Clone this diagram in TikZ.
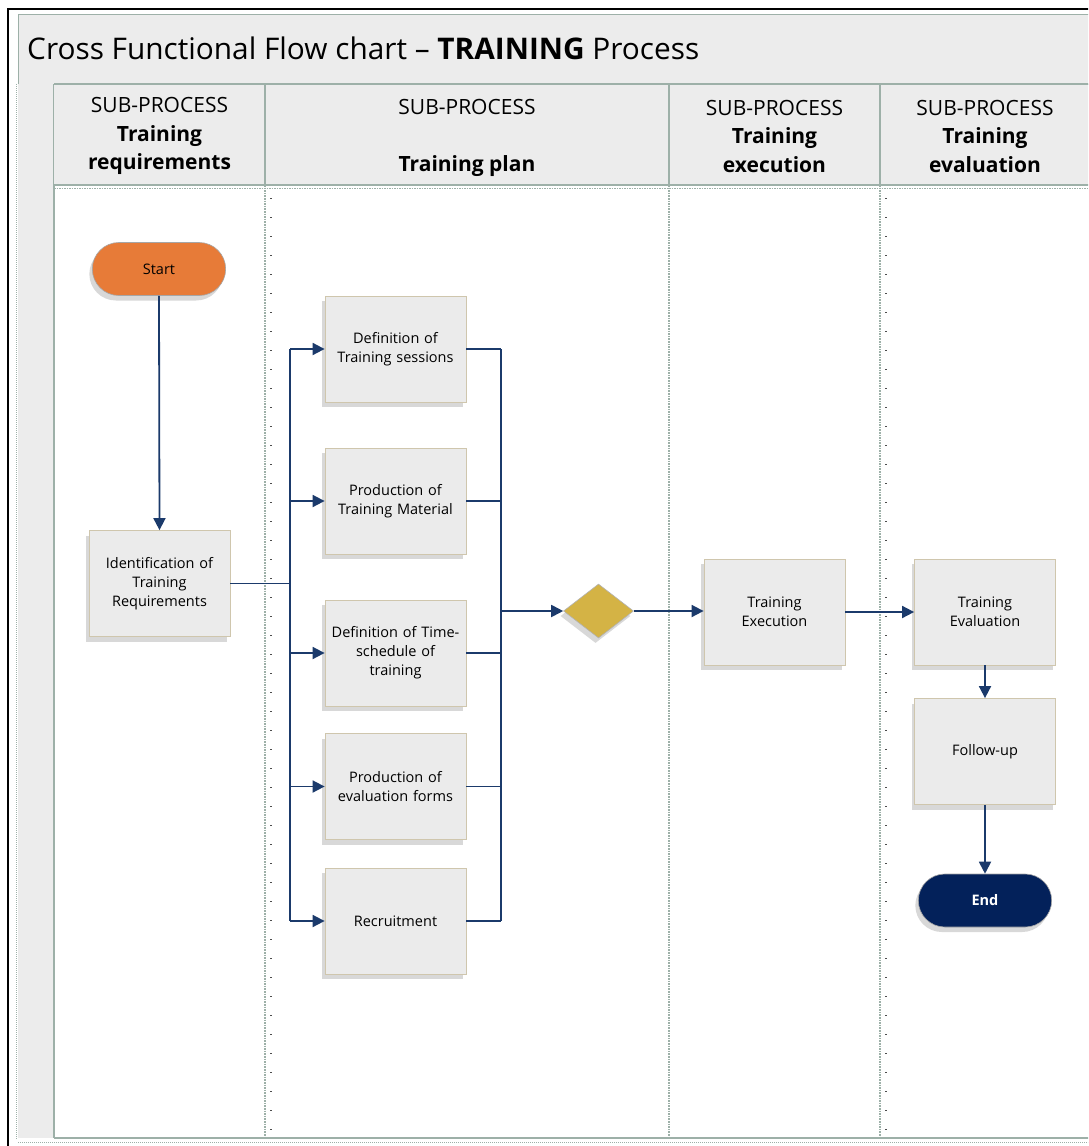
\documentclass[tikz,border=0pt]{standalone}
\usepackage{fontspec}
\setmainfont{Open Sans}
\usetikzlibrary{arrows.meta,shapes.geometric,shapes.misc,shadows}
\definecolor{band}{HTML}{ECECEC}
\definecolor{laneln}{HTML}{9DB0A8}
\definecolor{conn}{HTML}{1B3A6B}
\definecolor{startc}{HTML}{E77B38}
\definecolor{endc}{HTML}{03215A}
\definecolor{decc}{HTML}{D4B345}
\definecolor{boxln}{HTML}{CFC6AD}
\definecolor{boxfill}{HTML}{EBEBEB}
\tikzset{
  shad/.style={drop shadow={shadow xshift=-3pt,shadow yshift=-5pt,fill=gray!50,opacity=0.6}},
  procbox/.style={rectangle,minimum width=141pt,minimum height=106pt,fill=boxfill,draw=boxln,
    line width=0.8pt,align=center,text width=130pt,font=\fontsize{14.5}{19}\selectfont,shad},
  term/.style={rounded rectangle,minimum width=140pt,minimum height=53pt,draw=gray!70,line width=0.6pt,
    font=\fontsize{14.5}{17}\selectfont,shad},
  decision/.style={diamond,aspect=1.3,minimum width=70pt,minimum height=54pt,inner sep=0pt,
    fill=decc,draw=gray!60,line width=0.6pt,shad},
  hdr/.style={align=center,font=\fontsize{21}{28.5}\selectfont,inner sep=0pt},
  conline/.style={draw=conn,line width=1.8pt},
  flow/.style={conline,-{Triangle[length=12pt,width=12pt]}},
  lanesep/.style={draw=laneln,line width=1.2pt},
  lanedot/.style={draw=black!70,line width=1.3pt,dash pattern=on 1.3pt off 17.7pt},
}
\begin{document}
\begin{tikzpicture}[x=1pt,y=-1pt]
\useasboundingbox (0,0) rectangle (1088,1146);
\clip (0,0) rectangle (1088,1146);
% outer frame
\draw[black,line width=1.3pt] (8,1150) -- (8,9) -- (1095,9);
% title band
\draw[draw=laneln,fill=band,line width=1pt] (18,14) rectangle (1100,84);
% gutter
\fill[band] (18,84) rectangle (54,1138);
\draw[laneln,densely dotted,line width=1pt] (16,84) -- (16,1140);
\draw[lanesep] (54,84) -- (54,1138);
% header row
\fill[band] (54,84) rectangle (1100,185);
\draw[lanesep] (54,84) -- (1100,84);
\foreach \xx in {265,669,880} {\draw[lanesep] (\xx,84) -- (\xx,185);}
% lanes
\fill[white] (55,186) rectangle (1100,1137);
\draw[lanesep] (54,185) -- (1100,185);
\draw[laneln,densely dotted,line width=1.5pt] (54,188.5) -- (1100,188.5);
\foreach \xx in {265,669,880} {\draw[laneln,densely dotted,line width=1.6pt] (\xx,185) -- (\xx,1138);}
\draw[lanesep] (54,1138) -- (1100,1138);
\draw[laneln,densely dotted,line width=1pt] (18,1142) -- (1100,1142);
\draw[lanedot] (271,198) -- (271,1138);
\draw[lanedot] (886,198) -- (886,1138);
% title
\node[anchor=west,inner sep=0pt,font=\fontsize{29.8}{34}\selectfont] (title) at (27,48.5)
  {Cross Functional Flow chart – \textbf{TRAINING} Process};
% headers
\node[hdr] (h1) at (159.5,136) {SUB-PROCESS\\\textbf{Training}\\\textbf{requirements}};
\node[hdr] (h2) at (467,137.5) {SUB-PROCESS\\\strut\\\textbf{Training plan}};
\node[hdr] (h3) at (774.5,136) {SUB-PROCESS\\\textbf{Training}\\\textbf{execution}};
\node[hdr] (h4) at (985,136) {SUB-PROCESS\\\textbf{Training}\\\textbf{evaluation}};
% nodes
\node[term,fill=startc] (start) at (159,269) {Start};
\node[procbox] (ident) at (159.5,583.5) {Identification of\\Training\\Requirements};
\node[procbox] (b1) at (395.5,349) {Definition of\\Training sessions};
\node[procbox] (b2) at (395.5,501) {Production of\\Training Material};
\node[procbox] (b3) at (395.5,653) {Definition of Time-\\schedule of\\training};
\node[procbox] (b4) at (395.5,786.5) {Production of\\evaluation forms};
\node[procbox] (b5) at (395.5,921) {Recruitment};
\node[decision] (dec) at (598.5,611) {};
\node[procbox] (exec) at (774.5,612) {Training\\Execution};
\node[procbox] (eval) at (985,612) {Training\\Evaluation};
\node[procbox] (follow) at (985,751.5) {Follow-up};
\node[term,fill=endc,text=white,font=\fontsize{14.5}{17}\selectfont\bfseries] (end) at (985,900.5) {End};
% connectors
\coordinate (split) at (290,583.5);
\coordinate (merge) at (501,611);
\draw[flow] (start.south) -- (ident.north);
\draw[conline] (ident.east) -- (split);
\draw[conline] (split |- b1.west) -- (split |- b5.west);
\foreach \b in {b1,b2,b3,b4,b5} {\draw[flow] (split |- \b.west) -- (\b.west);}
\foreach \b in {b1,b2,b3,b4,b5} {\draw[conline] (\b.east) -- (merge |- \b.east);}
\draw[conline] (merge |- b1.east) -- (merge |- b5.east);
\draw[flow] (merge) -- (dec.west);
\draw[flow] (dec.east) -- (exec.west |- dec.east);
\draw[flow] (exec.east) -- (eval.west);
\draw[flow] (eval.south) -- (follow.north);
\draw[flow] (follow.south) -- (end.north);
\end{tikzpicture}
\end{document}
